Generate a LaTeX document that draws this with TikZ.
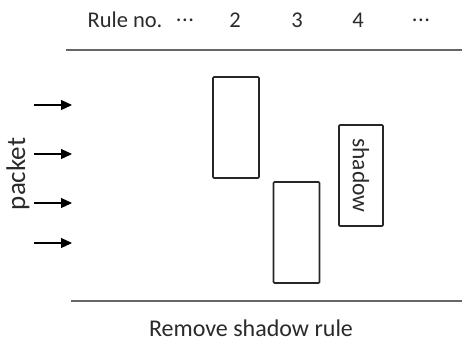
\documentclass[tikz,border=0pt]{standalone}
\usepackage{fontspec}
\setmainfont{Carlito}
\usetikzlibrary{arrows.meta}
\definecolor{txt}{HTML}{2A2A2A}
\tikzset{
  rulebox/.style={draw=black!85, line width=1.6pt, rounded corners=1pt},
  hdr/.style={text=txt, font=\fontsize{22.5}{26}\selectfont, inner sep=0pt},
  sep/.style={draw=black!60, line width=1.2pt},
  inarrow/.style={draw=black, line width=1.2pt, -{Triangle[length=11pt,width=10pt]}},
}
\begin{document}
\begin{tikzpicture}[x=1pt,y=-1pt]
\useasboundingbox (0,0) rectangle (462,343);
% header
\node[hdr] (rn) at (125,20) {Rule no.};
\node[hdr] (d1) at (185,20) {.\kern0.5pt.\kern0.5pt.};
\node[hdr] (n2) at (235,20) {2};
\node[hdr] (n3) at (297,20) {3};
\node[hdr] (n4) at (358,20) {4};
\node[hdr] (d2) at (421,20) {.\kern0.5pt.\kern0.5pt.};
% separators
\coordinate (t1) at (66,50); \coordinate (t2) at (462,50);
\coordinate (b1) at (71,301); \coordinate (b2) at (462,301);
\draw[sep] (t1) -- (t2);
\draw[sep] (b1) -- (b2);
% boxes
\node[rulebox, minimum width=46pt, minimum height=101pt] (r2) at (236,127.5) {};
\node[rulebox, minimum width=46pt, minimum height=101pt] (r3) at (296.5,232.5) {};
\node[rulebox, minimum width=44pt, minimum height=101pt] (r4) at (361,175.5) {};
\node[hdr, rotate=-90, font=\fontsize{23.5}{26}\selectfont] (sh) at (r4.center) {shadow};
% packet
\node[hdr, rotate=90, font=\fontsize{27}{30}\selectfont] (pk) at (18,174) {packet};
\foreach \y [count=\i] in {105,154,203,243} {
  \coordinate (a\i) at (34,\y);
  \coordinate (e\i) at (72,\y);
  \draw[inarrow] (a\i) -- (e\i);
}
% caption
\node[hdr, anchor=base, font=\fontsize{24}{28}\selectfont] (cap) at (251,336) {Remove shadow rule};
\end{tikzpicture}
\end{document}
